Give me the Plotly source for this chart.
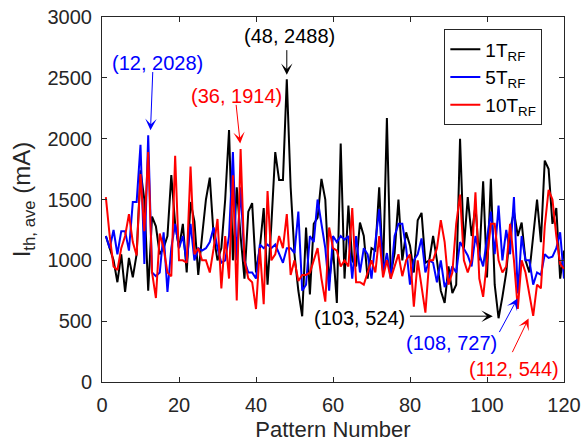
import plotly.graph_objects as go

# Pattern index 1..120
patterns = list(range(1, 121))

# Average threshold current (mA) for each feedback delay setting
ith_1trf = [
    1200, 1100, 1000, 820, 1050, 740, 1020, 860, 1050, 1740,
    1500, 750, 1360, 1280, 1050, 1100, 1200, 1700, 1300, 1100,
    1300, 900, 1480, 1320, 880, 1200, 1500, 1680, 1200, 1000,
    1100, 1500, 2070, 1000, 1600, 1200, 850, 1400, 1470, 900,
    1100, 1430, 800, 1300, 1890, 1660, 1660, 2488, 1600, 1050,
    750, 540, 1270, 720, 1300, 1350, 1670, 1500, 820, 1100,
    650, 1960, 850, 1450, 1000, 950, 1310, 1200, 850, 1100,
    1080, 1600, 900, 2170, 880, 1060, 1500, 1000, 1230, 1120,
    900, 1330, 1390, 980, 1000, 1200, 1000, 750, 650, 950,
    730, 800, 2000, 1100, 1520, 1200, 1450, 1000, 1650, 860,
    1670, 800, 524, 700, 900, 1250, 1400, 1200, 1310, 1000,
    900, 1200, 1500, 1150, 1820, 1750, 1300, 1430, 850, 1080,
]
ith_5trf = [
    1200, 1100, 1250, 1050, 1240, 1240, 1080, 1480, 1480, 1950,
    970, 2028, 900, 870, 900, 1230, 740, 1100, 1300, 1100,
    1200, 980, 1300, 1000, 1100, 1080, 1100, 1150, 1270, 1100,
    980, 1000, 1200, 1890, 1000, 1600, 1000, 900, 900, 850,
    1130, 1100, 1130, 1100, 1130, 1050, 980, 1100, 1100, 1060,
    1400, 750, 800, 1200, 1150, 1500, 1300, 1100, 750, 1200,
    1150, 1200, 1170, 1200, 850, 1200, 900, 1100, 1050, 850,
    1150, 1420, 900, 1060, 850, 1200, 1300, 1300, 1100, 800,
    1000, 1050, 1180, 900, 1000, 980, 820, 1000, 780, 850,
    950, 900, 1150, 1100, 1040, 950, 1200, 1050, 950, 1180,
    1400, 1050, 1450, 1000, 1250, 1050, 1520, 727, 1200, 1000,
    1000, 800, 900, 880, 1050, 1020, 1030, 1100, 1230, 850,
]
ith_10trf = [
    1520, 1200, 950, 920, 1100, 1200, 1380, 1150, 1040, 1710,
    1240, 1890, 900, 690, 1220, 1100, 900, 870, 1860, 1000,
    1000, 980, 1770, 1050, 1100, 1000, 1000, 900, 1100, 1340,
    770, 1200, 850, 1700, 670, 1914, 1000, 850, 820, 600,
    1100, 640, 1570, 1000, 1050, 1200, 1100, 1380, 880, 1000,
    830, 880, 880, 900, 1000, 1100, 850, 660, 1270, 1100,
    1080, 950, 1000, 950, 1430, 820, 820, 800, 900, 1000,
    900, 1200, 860, 1000, 850, 950, 1050, 870, 1000, 1050,
    620, 1000, 800, 570, 1000, 1000, 1100, 1330, 1150, 800,
    900, 1300, 1540, 1000, 900, 1000, 1560, 850, 700, 1000,
    1300, 1300, 1000, 900, 950, 1300, 1000, 600, 1000, 900,
    720, 544, 800, 770, 1280, 1580, 1500, 1200, 970, 930,
]

series_names = ["1T<sub>RF</sub>", "5T<sub>RF</sub>", "10T<sub>RF</sub>"]
series_colors = ["#000000", "#0000FF", "#FF0000"]

x_ticks = [0, 20, 40, 60, 80, 100, 120]
y_ticks = [0, 500, 1000, 1500, 2000, 2500, 3000]

# Highlighted extrema: (label, arrow tip, arrow tail, text position, color index)
callouts = [
    ("(12, 2028)", (12.6, 2070), (13.2, 2560), (14.4, 2620), 1),
    ("(36, 1914)", (35.9, 1960), (34.8, 2290), (35.0, 2347), 2),
    ("(48, 2488)", (48.0, 2525), (48.0, 2740), (48.6, 2841), 0),
    ("(103, 524)", (101.5, 541), (79.6, 541), (66.9, 522), 0),
    ("(108, 727)", (107.9, 686), (103.0, 398), (90.9, 321), 1),
    ("(112, 544)", (110.8, 522), (106.4, 233), (106.9, 110), 2),
]

FONT = "Liberation Sans, Arial, sans-serif"
AXIS_COLOR = "#262626"

fig = go.Figure()
for name, color, vals in zip(series_names, series_colors,
                             [ith_1trf, ith_5trf, ith_10trf]):
    fig.add_trace(go.Scatter(
        x=patterns, y=vals, mode="lines", name=name,
        line=dict(color=color, width=2),
    ))

for label, tip, tail, pos, ci in callouts:
    col = series_colors[ci]
    fig.add_annotation(
        x=tip[0], y=tip[1], ax=tail[0], ay=tail[1],
        xref="x", yref="y", axref="x", ayref="y",
        text="", showarrow=True, arrowhead=3, arrowsize=1.9,
        arrowwidth=1, arrowcolor=col,
    )
    fig.add_annotation(
        x=pos[0], y=pos[1], xref="x", yref="y", text=label,
        showarrow=False, font=dict(family=FONT, size=20, color=col),
    )

axis_common = dict(
    showline=True, linecolor=AXIS_COLOR, linewidth=1, mirror="allticks",
    ticks="inside", ticklen=5, tickcolor=AXIS_COLOR, showgrid=False,
    zeroline=False, automargin=False,
    tickfont=dict(family=FONT, size=20, color=AXIS_COLOR),
)

fig.update_xaxes(
    range=[0, 120], tickvals=x_ticks, ticktext=[str(v) for v in x_ticks],
    title=dict(text="Pattern Number",
               font=dict(family=FONT, size=22, color=AXIS_COLOR), standoff=12),
    ticklabelstandoff=5,
    **axis_common,
)
fig.update_yaxes(
    range=[0, 3000], tickvals=y_ticks, ticktext=[str(v) for v in y_ticks],
    title=dict(text="I<sub>th, ave</sub> (mA)",
               font=dict(family=FONT, size=24, color=AXIS_COLOR), standoff=10),
    ticklabelstandoff=5,
    **axis_common,
)

fig.update_layout(
    width=587, height=442,
    margin=dict(l=102, r=23, t=17, b=60),
    paper_bgcolor="white", plot_bgcolor="white",
    font=dict(family=FONT, color=AXIS_COLOR),
    showlegend=True,
    legend=dict(
        x=0.741, y=0.966, xanchor="left", yanchor="top",
        bgcolor="white", bordercolor=AXIS_COLOR, borderwidth=1,
        font=dict(family=FONT, size=19, color="#000000"),
        tracegroupgap=0,
    ),
)

fig.write_html("out.html")
